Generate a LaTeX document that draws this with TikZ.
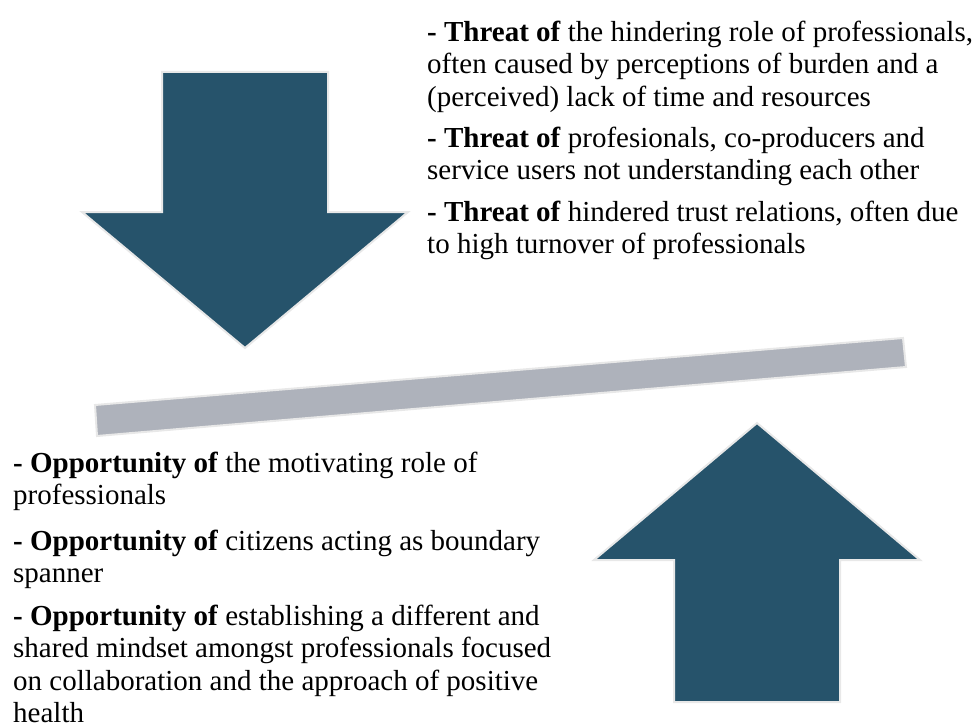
\documentclass[tikz,border=0pt]{standalone}
\usepackage{fontspec}
\setmainfont{Liberation Serif}
\usepackage{xcolor}
\usetikzlibrary{positioning}
\definecolor{arrowblue}{RGB}{38,83,107}
\definecolor{bargrey}{RGB}{174,178,187}
\definecolor{rimgrey}{RGB}{232,232,232}
\def\shafthalf{83}
\def\headhalf{163}

\begin{document}
\begin{tikzpicture}[x=1bp,y=-1bp]
    \tikzstyle{block arrow}=[fill=arrowblue, draw=rimgrey, line width=2bp, line join=miter]
    \tikzstyle{beam}=[fill=bargrey, draw=rimgrey, line width=2bp]
    \tikzstyle{point}=[anchor=north west, align=left, inner sep=0pt, font=\fontsize{29bp}{32.3bp}\selectfont]

    \useasboundingbox (0,0) rectangle (975,728);

%   threat arrow, pointing down
    \draw[block arrow] (245-\shafthalf,72) -- (245+\shafthalf,72) -- (245+\shafthalf,212)
        -- (245+\headhalf,212) -- (245,348) -- (245-\headhalf,212) -- (245-\shafthalf,212) -- cycle;

%   opportunity arrow, pointing up
    \draw[block arrow] (757-\shafthalf,702) -- (757+\shafthalf,702) -- (757+\shafthalf,560)
        -- (757+\headhalf,560) -- (757,423) -- (757-\headhalf,560) -- (757-\shafthalf,560) -- cycle;

%   tilted beam
    \draw[beam] (95,405) -- (903,338) -- (906,367) -- (97,436) -- cycle;

	\node[point] (T-1) at (427,21) {\textbf{- Threat of} the hindering role of professionals,\\often caused by perceptions of burden and a\\(perceived) lack of time and resources};
	\node[point] (T-2) at (427,127) {\textbf{- Threat of} profesionals, co-producers and\\service users not understanding each other};
	\node[point] (T-3) at (427,201) {\textbf{- Threat of} hindered trust relations, often due\\to high turnover of professionals};

	\node[point] (O-1) at (13,452) {\textbf{- Opportunity of} the motivating role of\\professionals};
	\node[point] (O-2) at (13,530) {\textbf{- Opportunity of} citizens acting as boundary\\spanner};
	\node[point] (O-3) at (13,605) {\textbf{- Opportunity of} establishing a different and\\shared mindset amongst professionals focused\\on collaboration and the approach of positive\\health};

\end{tikzpicture}
\end{document}
